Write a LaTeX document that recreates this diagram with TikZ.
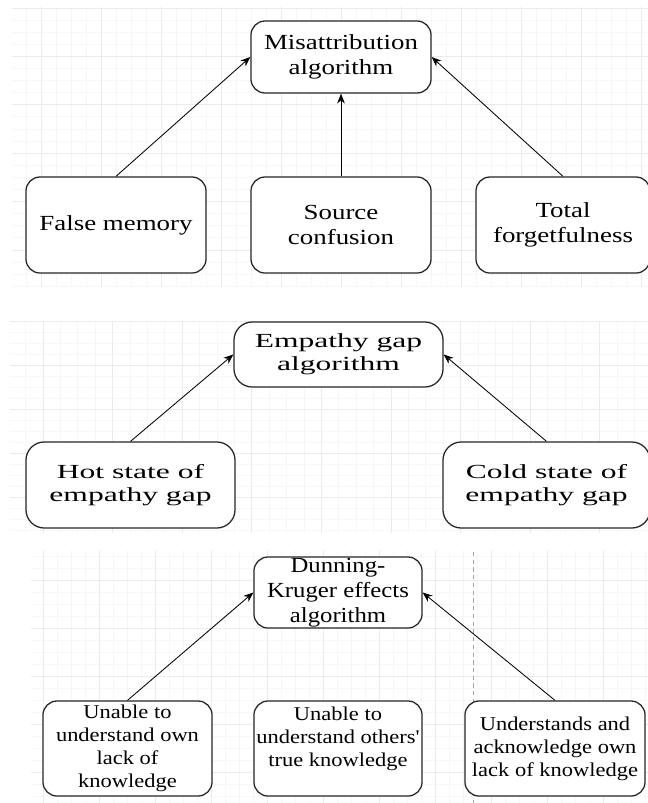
\documentclass[tikz,border=0pt]{standalone}
\usepackage{fontspec}
\setmainfont{Liberation Serif}
\newfontfamily\misfont{Liberation Serif}[FakeStretch=1.25]
\newfontfamily\empfont{Liberation Serif}[FakeStretch=1.58]
\newfontfamily\dkfont{Liberation Serif}[FakeStretch=1.15]
\usetikzlibrary{arrows.meta}

\tikzset{every picture/.style={line width=0.75pt}}
\tikzset{
  box/.style={draw=black!85, fill=white, rounded corners=10pt,
    line width=0.9pt, align=center, inner sep=0pt},
  link/.style={-{Stealth[length=7pt,width=5.5pt]}, line width=0.6pt},
  gridminor/.style={draw=black!3, line width=0.6pt},
  gridmajor/.style={draw=black!8, line width=0.7pt},
  misbox/.style={box, font=\misfont\fontsize{15.3pt}{17.8pt}\selectfont},
  empbox/.style={box, rounded corners=13pt,
    font=\empfont\fontsize{14.2pt}{16.4pt}\selectfont},
  dkbox/.style={box, font=\dkfont\fontsize{15.3pt}{17.8pt}\selectfont},
  dksmall/.style={box, font=\dkfont\fontsize{13.9pt}{16.4pt}\selectfont},
}

\begin{document}
\begin{tikzpicture}[x=0.025cm,y=-0.025cm]
  \useasboundingbox (0,0) rectangle (648,803);
  \fill[white] (0,0) rectangle (648,803);

  % --- Panel 1 : misattribution ---
  \begin{scope}
    \clip (12,7) rectangle (648,287);
    \foreach \gx in {11,26,...,648} \draw[gridminor] (\gx,7) -- (\gx,287);
    \foreach \gy in {8,20.1,...,287} \draw[gridminor] (12,\gy) -- (648,\gy);
    \foreach \gx in {41,101,...,648} \draw[gridmajor] (\gx,7) -- (\gx,287);
    \foreach \gy in {8,56.4,...,287} \draw[gridmajor] (12,\gy) -- (648,\gy);
  \end{scope}
  \node[misbox, minimum width=4.5cm, minimum height=1.8cm] (mis) at (341,57)
    {Misattribution\\algorithm};
  \node[misbox, minimum width=4.5cm, minimum height=2.4cm] (fm) at (116,225)
    {False memory};
  \node[misbox, minimum width=4.5cm, minimum height=2.4cm] (sc) at (341,225)
    {Source\\confusion};
  \node[misbox, minimum width=4.35cm, minimum height=2.4cm] (tf) at (563,225)
    {Total\\forgetfulness};
  \draw[link] (fm.north) -- (mis.west);
  \draw[link] (sc.north) -- (mis.south);
  \draw[link] (tf.north) -- (mis.east);

  % --- Panel 2 : empathy gap ---
  \begin{scope}
    \clip (10,321) rectangle (648,533);
    \foreach \gx in {25.6,43,...,648} \draw[gridminor] (\gx,321) -- (\gx,533);
    \foreach \gy in {321,332,...,533} \draw[gridminor] (10,\gy) -- (648,\gy);
    \foreach \gx in {43,112.6,...,648} \draw[gridmajor] (\gx,321) -- (\gx,533);
    \foreach \gy in {321,365,...,533} \draw[gridmajor] (10,\gy) -- (648,\gy);
  \end{scope}
  \node[empbox, minimum width=5.225cm, minimum height=1.625cm] (eg) at (338.5,354.5)
    {Empathy gap\\algorithm};
  \node[empbox, minimum width=5.225cm, minimum height=2.15cm] (hot) at (130.5,485)
    {Hot state of\\empathy gap};
  \node[empbox, minimum width=5.175cm, minimum height=2.15cm] (cold) at (546.5,485)
    {Cold state of\\empathy gap};
  \draw[link] (hot.north) -- (eg.west);
  \draw[link] (cold.north) -- (eg.east);

  % --- Panel 3 : Dunning-Kruger ---
  \begin{scope}
    \clip (31,550) rectangle (648,803);
    \foreach \gx in {43,57,...,648} \draw[gridminor] (\gx,550) -- (\gx,803);
    \foreach \gy in {556,568,...,803} \draw[gridminor] (31,\gy) -- (648,\gy);
    \foreach \gx in {43,99,...,648} \draw[gridmajor] (\gx,550) -- (\gx,803);
    \foreach \gy in {580,628,...,803} \draw[gridmajor] (31,\gy) -- (648,\gy);
  \end{scope}
  \draw[black!35, dash pattern=on 3pt off 2.5pt, line width=0.6pt] (473,552) -- (473,803);
  \node[dkbox, minimum width=4.2cm, minimum height=1.775cm] (dk) at (338,592.5)
    {Dunning-\\Kruger effects\\algorithm};
  \node[dksmall, minimum width=4.225cm, minimum height=2.375cm] (uno) at (127.5,748.5)
    {Unable to\\understand own\\lack of\\knowledge};
  \node[dksmall, minimum width=4.2cm, minimum height=2.375cm] (unt) at (338,748.5)
    {Unable to\\understand others'\\true knowledge\\\mbox{}};
  \node[dksmall, minimum width=4.5cm, minimum height=2.375cm] (und) at (555,748.5)
    {Understands and\\acknowledge own\\lack of knowledge};
  \draw[link] (uno.north) -- (dk.west);
  \draw[link] (und.north) -- (dk.east);
\end{tikzpicture}
\end{document}
